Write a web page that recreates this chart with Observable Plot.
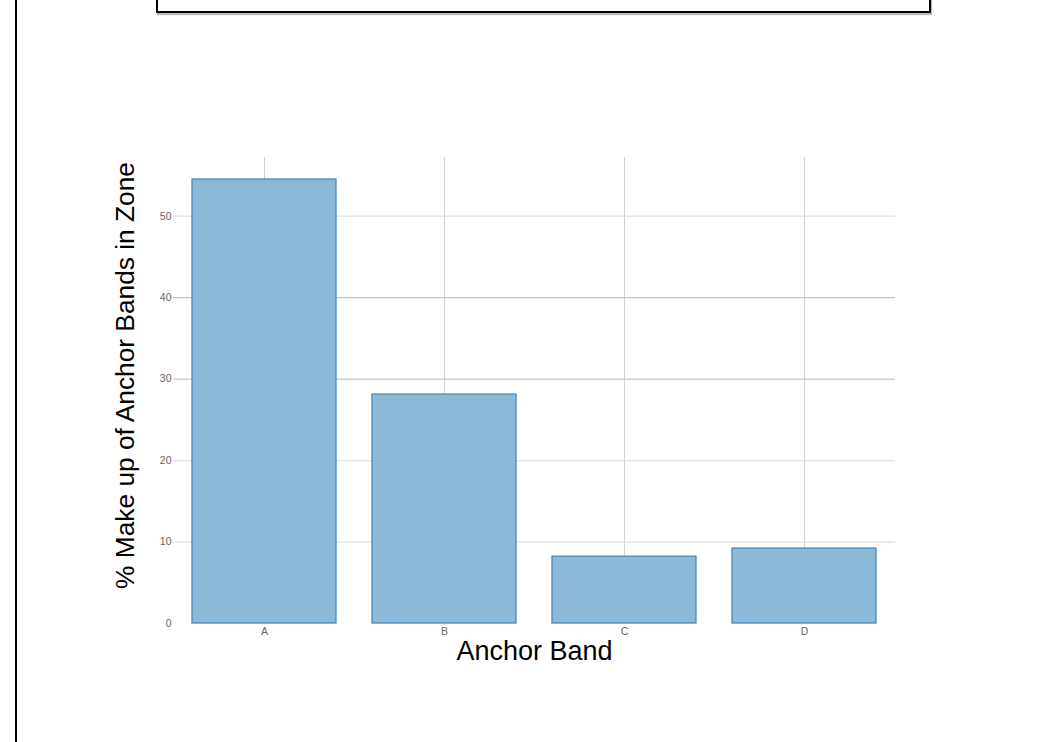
<!DOCTYPE html>
<html>
<head>
<meta charset="utf-8">
<script src="https://cdn.jsdelivr.net/npm/d3@7"></script>
<script src="https://cdn.jsdelivr.net/npm/@observablehq/plot@0.6"></script>
<style>
  html, body { margin: 0; padding: 0; background: #fff; }
  #wrap { position: relative; width: 1049px; height: 742px; overflow: hidden; font-family: "Liberation Sans", Arial, sans-serif; }
  #leftline { position: absolute; left: 15px; top: 0; width: 2px; height: 742px; background: #000; }
  #topbox { position: absolute; left: 156px; top: -4px; width: 771px; height: 13px; border: 2px solid #000; box-shadow: 1px 2px 1px #bbb; background: #fff; }
  #chart { position: absolute; left: 0; top: 0; }
</style>
</head>
<body>
<div id="wrap">
  <div id="leftline"></div>
  <div id="topbox"></div>
  <div id="chart"></div>
</div>
<script>
const categories = ["A", "B", "C", "D"];
const values = [54.5, 28.1, 8.2, 9.2];
const yTicks = [0, 10, 20, 30, 40, 50];
const xLabel = "Anchor Band";
const yLabel = "% Make up of Anchor Bands in Zone";

const data = categories.map((c, i) => ({band: c, value: values[i]}));

const chart = Plot.plot({
  width: 1049,
  height: 742,
  marginLeft: 173,
  marginRight: 154,
  marginTop: 157,
  marginBottom: 119,
  style: {fontFamily: "Liberation Sans, Arial, sans-serif", background: "transparent"},
  x: {domain: categories, paddingInner: 0.2, paddingOuter: 0.1},
  y: {domain: [0, 57.2]},
  marks: [
    Plot.ruleX(categories, {x: d => d, stroke: "#d2d2d2", strokeWidth: 1}),
    Plot.ruleY(yTicks.filter(t => t > 0), {y: d => d, stroke: d => (d === 30 || d === 40) ? "#c4c4c4" : "#e2e2e2", strokeWidth: 1.3}),
    Plot.barY(data, {x: "band", y: "value", fill: "#8db9d9", stroke: "#4b88bb", strokeWidth: 1.3}),
    Plot.axisX({tickSize: 0, tickPadding: 4, fontSize: 10.5, color: "#666", label: xLabel, labelAnchor: "center", labelArrow: "none", labelOffset: 36}),
    Plot.axisY({ticks: yTicks, tickSize: 0, tickPadding: 2, fontSize: 10.5, color: "#666", label: yLabel, labelAnchor: "center", labelArrow: "none", labelOffset: 58})
  ]
});
chart.querySelectorAll("g[aria-label='x-axis label'], g[aria-label='y-axis label']").forEach(g => {
  g.setAttribute("font-size", "27");
  g.setAttribute("fill", "#000");
  g.querySelectorAll("text").forEach(t => {
    t.setAttribute("fill", "#000");
    t.style.fill = "#000";
  });
});
chart.querySelectorAll("g[aria-label='y-axis label'] text").forEach(t => {
  t.setAttribute("font-size", "26.3");
  const tr = t.getAttribute("transform") || "";
  t.setAttribute("transform", "translate(0,-15) " + tr);
});
document.getElementById("chart").appendChild(chart);
</script>
</body>
</html>
